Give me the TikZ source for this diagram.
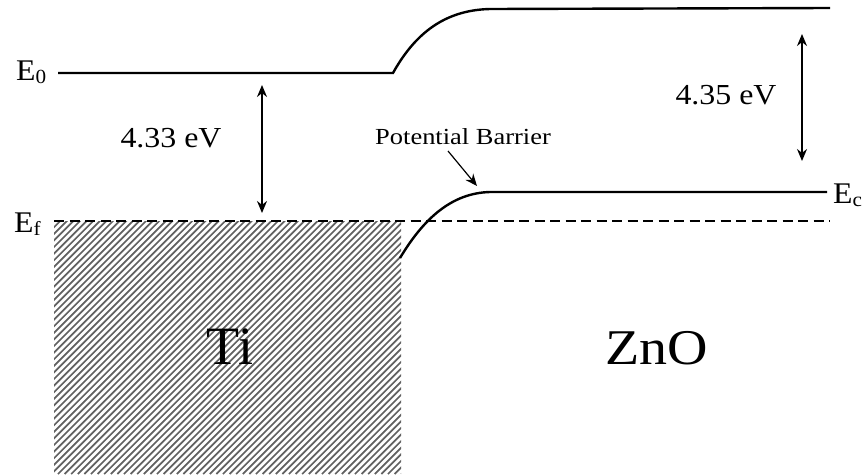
\documentclass[tikz,border=0pt]{standalone}
\usepackage{fontspec}
\setmainfont{Liberation Serif}
\usetikzlibrary{arrows.meta}
% level symbol with a lowered, smaller index
\newcommand{\lvl}[2]{#1\raisebox{-3pt}{\fontsize{20}{20}\selectfont #2}}
\begin{document}
\begin{tikzpicture}[x=1pt,y=-1pt,
  band/.style={line width=2.4pt},
  fermi/.style={line width=2.6pt,dash pattern=on 10pt off 5.5pt},
  gap/.style={line width=1.4pt,{Stealth[length=12pt,width=10pt]}-{Stealth[length=12pt,width=10pt]}},
  pointer/.style={line width=1.2pt,-{Stealth[length=12pt,width=10pt]}},
  lbl/.style={inner sep=0pt,xscale=1.06,font=\fontsize{30}{30}\selectfont},
  ev/.style={inner sep=0pt,xscale=1.1,font=\fontsize{29}{29}\selectfont},
  hatchline/.style={line width=1.7pt,black!62}]
\useasboundingbox (0,0) rectangle (864,474);

% hatched metal (Ti) filled below the Fermi level
\begin{scope}
  \clip (54,221) rectangle (401,474);
  \foreach \i in {0,6.6,...,660}
    \draw[hatchline] (54+\i-260,474) -- (54+\i,214);
\end{scope}

% vacuum level
\coordinate (e0a) at (58,73);
\coordinate (e0b) at (393,73);
\coordinate (e0c) at (490,9);
\coordinate (e0d) at (830,8);
\draw[band] (e0a) -- (e0b) .. controls (418,28) and (450,10) .. (e0c) -- (e0d);

% conduction band edge
\coordinate (eca) at (400,258);
\coordinate (ecb) at (490,192);
\coordinate (ecc) at (827,192);
\draw[band] (eca) .. controls (424,218) and (452,193) .. (ecb) -- (ecc);

% Fermi level
\coordinate (efa) at (54,221);
\coordinate (efb) at (830,221);
\draw[fermi] (efa) -- (efb);

% level labels
\node[lbl,anchor=base west] (lE0) at (16,80) {\lvl{E}{0}};
\node[lbl,anchor=base west] (lEf) at (14,232) {\lvl{E}{f}};
\node[lbl,anchor=base west] (lEc) at (833,203) {\lvl{E}{c}};

% work function / electron affinity arrows
\coordinate (w1a) at (262,85);
\coordinate (w1b) at (262,213);
\draw[gap] (w1a) -- (w1b);
\node[ev] (v1) at (171,138) {4.33 eV};

\coordinate (w2a) at (802,34);
\coordinate (w2b) at (802,161);
\draw[gap] (w2a) -- (w2b);
\node[ev] (v2) at (726,95) {4.35 eV};

% barrier annotation
\node[inner sep=0pt,font=\fontsize{23}{23}\selectfont,xscale=1.15] (pb) at (463,137) {Potential Barrier};
\coordinate (pbt) at (477,186);
\draw[pointer] (448,151) -- (pbt);

% materials
\node[inner sep=0pt,font=\fontsize{54}{54}\selectfont] (ti) at (230,347) {Ti};
\node[inner sep=0pt,xscale=1.12,font=\fontsize{50}{50}\selectfont] (zno) at (657,348) {ZnO};
\end{tikzpicture}
\end{document}
